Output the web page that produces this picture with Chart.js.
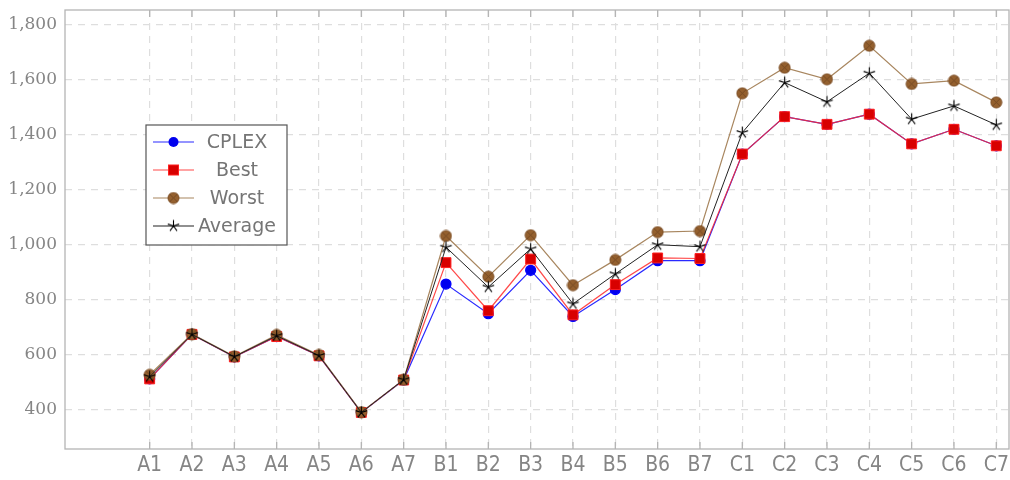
<!DOCTYPE html>
<html>
<head>
<meta charset="utf-8">
<script src="https://cdn.jsdelivr.net/npm/chart.js@4.4.0/dist/chart.umd.min.js"></script>
<style>
  html, body { margin: 0; padding: 0; background: #fff; }
  #wrap { width: 1010px; height: 480px; }
</style>
</head>
<body>
<div id="wrap"><canvas id="lineChart" width="1010" height="480"></canvas></div>
<script>
var categories = ["A1","A2","A3","A4","A5","A6","A7","B1","B2","B3","B4","B5","B6","B7","C1","C2","C3","C4","C5","C6","C7"];
var cplex   = [510, 672, 590, 664, 594, 388, 506, 855, 747, 905, 737, 835, 940, 940, 1328, 1464, 1436, 1473, 1365, 1418, 1358];
var best    = [510, 672, 590, 664, 594, 388, 506, 933, 758, 946, 743, 853, 950, 948, 1328, 1464, 1436, 1473, 1365, 1418, 1358];
var worst   = [525, 673, 592, 670, 597, 389, 507, 1030, 882, 1033, 851, 943, 1044, 1048, 1549, 1642, 1600, 1722, 1583, 1595, 1516];
var average = [518, 672, 591, 667, 595, 388, 507, 989, 844, 983, 783, 892, 998, 991, 1406, 1588, 1518, 1622, 1455, 1503, 1434];
var yTicks  = [400, 600, 800, 1000, 1200, 1400, 1600, 1800];

function makeStar() {
    var c = document.createElement("canvas");
    c.width = 15; c.height = 15;
    var g = c.getContext("2d");
    g.strokeStyle = "#000";
    g.lineWidth = 1.1;
    g.beginPath();
    for (var k = 0; k < 5; k++) {
        var a = -Math.PI / 2 + k * 2 * Math.PI / 5;
        g.moveTo(7.5, 7.5);
        g.lineTo(7.5 + 6 * Math.cos(a), 7.5 + 6 * Math.sin(a));
    }
    g.stroke();
    return c;
}

function makeOtimes() {
    var c = document.createElement("canvas");
    c.width = 13; c.height = 13;
    var g = c.getContext("2d");
    g.fillStyle = "#94602e";
    g.strokeStyle = "#7a4a20";
    g.lineWidth = 1;
    g.beginPath();
    g.arc(6.5, 6.5, 5.5, 0, Math.PI * 2);
    g.fill();
    g.stroke();
    g.strokeStyle = "#6e4522";
    g.lineWidth = 0.8;
    g.beginPath();
    g.moveTo(2.6, 2.6); g.lineTo(10.4, 10.4);
    g.moveTo(10.4, 2.6); g.lineTo(2.6, 10.4);
    g.stroke();
    return c;
}

var starImg = makeStar();
var otimesImg = makeOtimes();

function toXY(arr) {
    return arr.map(function(v, i) { return {x: i, y: v}; });
}

function noPad(scale) {
    scale.paddingTop = 0; scale.paddingBottom = 0;
    scale.paddingLeft = 0; scale.paddingRight = 0;
}

var legendItems = [
    {label: "CPLEX", line: "#2a2aff", draw: function(ctx, x, y) {
        ctx.fillStyle = "#0000ee"; ctx.beginPath(); ctx.arc(x, y, 5, 0, Math.PI * 2); ctx.fill();
    }},
    {label: "Best", line: "rgba(255,40,40,0.85)", draw: function(ctx, x, y) {
        ctx.fillStyle = "#d80000"; ctx.strokeStyle = "#ff2020"; ctx.lineWidth = 1;
        ctx.fillRect(x - 5, y - 5, 10, 10); ctx.strokeRect(x - 5, y - 5, 10, 10);
    }},
    {label: "Worst", line: "#a8865f", draw: function(ctx, x, y) {
        ctx.drawImage(otimesImg, x - 6.5, y - 6.5);
    }},
    {label: "Average", line: "#222", draw: function(ctx, x, y) {
        ctx.drawImage(starImg, x - 7.5, y - 7.5);
    }}
];

var framePlugin = {
    id: "frame",
    afterLayout: function(chart) {
        // stretch the plot box to the right edge, as in the original figure
        var a = chart.chartArea, xs = chart.scales.x;
        a.right = chart.width - 1;
        a.width = a.right - a.left;
        xs.right = a.right;
        xs.width = a.width;
        xs.configure();
    },
    beforeDatasetsDraw: function(chart) {
        var a = chart.chartArea, ctx = chart.ctx, xs = chart.scales.x;
        ctx.save();
        ctx.strokeStyle = "#b4b4b4";
        ctx.lineWidth = 1.3;
        ctx.strokeRect(a.left, a.top, a.right - a.left, a.bottom - a.top);
        ctx.beginPath();
        for (var i = 0; i < categories.length; i++) {
            var px = xs.getPixelForValue(i);
            ctx.moveTo(px, a.bottom); ctx.lineTo(px, a.bottom - 7);
            ctx.moveTo(px, a.top); ctx.lineTo(px, a.top + 7);
        }
        ctx.stroke();
        ctx.restore();
    },
    afterDraw: function(chart) {
        var ctx = chart.ctx;
        var bx = 146, by = 125, bw = 141, bh = 120;
        ctx.save();
        ctx.fillStyle = "#fff";
        ctx.fillRect(bx, by, bw, bh);
        ctx.strokeStyle = "#555";
        ctx.lineWidth = 1.2;
        ctx.strokeRect(bx, by, bw, bh);
        ctx.font = "19px 'DejaVu Sans'";
        ctx.textAlign = "center";
        ctx.textBaseline = "middle";
        legendItems.forEach(function(it, k) {
            var y = by + 17 + k * 28;
            ctx.strokeStyle = it.line;
            ctx.lineWidth = 1.2;
            ctx.beginPath(); ctx.moveTo(153, y); ctx.lineTo(194, y); ctx.stroke();
            it.draw(ctx, 173.5, y);
            ctx.fillStyle = "#757575";
            ctx.fillText(it.label, 237, y + 1);
        });
        ctx.restore();
    }
};

var ctx1 = document.getElementById("lineChart").getContext("2d");
var lineChart = new Chart(ctx1, {
    type: "line",
    data: {
        datasets: [{
            label: "CPLEX",
            data: toXY(cplex),
            borderColor: "#2a2aff",
            backgroundColor: "#0000ee",
            pointBackgroundColor: "#0000ee",
            pointBorderColor: "#0000ff",
            pointStyle: "circle",
            pointRadius: 5,
            borderWidth: 1.2,
            order: 4
        }, {
            label: "Best",
            data: toXY(best),
            borderColor: "rgba(255,40,40,0.85)",
            backgroundColor: "#d80000",
            pointBackgroundColor: "#d80000",
            pointBorderColor: "#ff2020",
            pointStyle: "rect",
            pointRadius: 7,
            pointBorderWidth: 1,
            borderWidth: 1.2,
            order: 3
        }, {
            label: "Worst",
            data: toXY(worst),
            borderColor: "#a8865f",
            pointStyle: otimesImg,
            pointRadius: 6,
            borderWidth: 1.2,
            order: 2
        }, {
            label: "Average",
            data: toXY(average),
            borderColor: "#222",
            pointStyle: starImg,
            pointRadius: 7,
            borderWidth: 1,
            order: 1
        }]
    },
    options: {
        responsive: false,
        animation: false,
        layout: { padding: { top: 10, right: 1, left: 0, bottom: 0 } },
        plugins: { legend: { display: false }, tooltip: { enabled: false } },
        elements: { line: { tension: 0 } },
        scales: {
            x: {
                type: "linear",
                min: -2,
                max: 20.3,
                afterBuildTicks: function(scale) {
                    scale.ticks = categories.map(function(c, i) { return {value: i}; });
                },
                afterFit: function(scale) { scale.height = 31; noPad(scale); },
                grid: { color: "#dedede", lineWidth: 1.2, drawTicks: false },
                border: { display: false, dash: [7, 6] },
                ticks: {
                    autoSkip: false,
                    maxRotation: 0,
                    padding: 4,
                    color: "#858585",
                    font: { family: "'DejaVu Sans Condensed', 'DejaVu Sans'", size: 21 },
                    callback: function(v) { return categories[v] || ""; }
                }
            },
            y: {
                min: 255,
                max: 1852,
                afterBuildTicks: function(scale) {
                    scale.ticks = yTicks.map(function(v) { return {value: v}; });
                },
                afterFit: function(scale) { scale.width = 65; noPad(scale); },
                grid: { color: "#dedede", lineWidth: 1.2, drawTicks: false },
                border: { display: false, dash: [7, 6] },
                ticks: {
                    padding: 8,
                    color: "#858585",
                    font: { family: "'DejaVu Serif'", size: 17 },
                    callback: function(v) { return v.toLocaleString("en-US"); }
                }
            }
        }
    },
    plugins: [framePlugin]
});
</script>
</body>
</html>
